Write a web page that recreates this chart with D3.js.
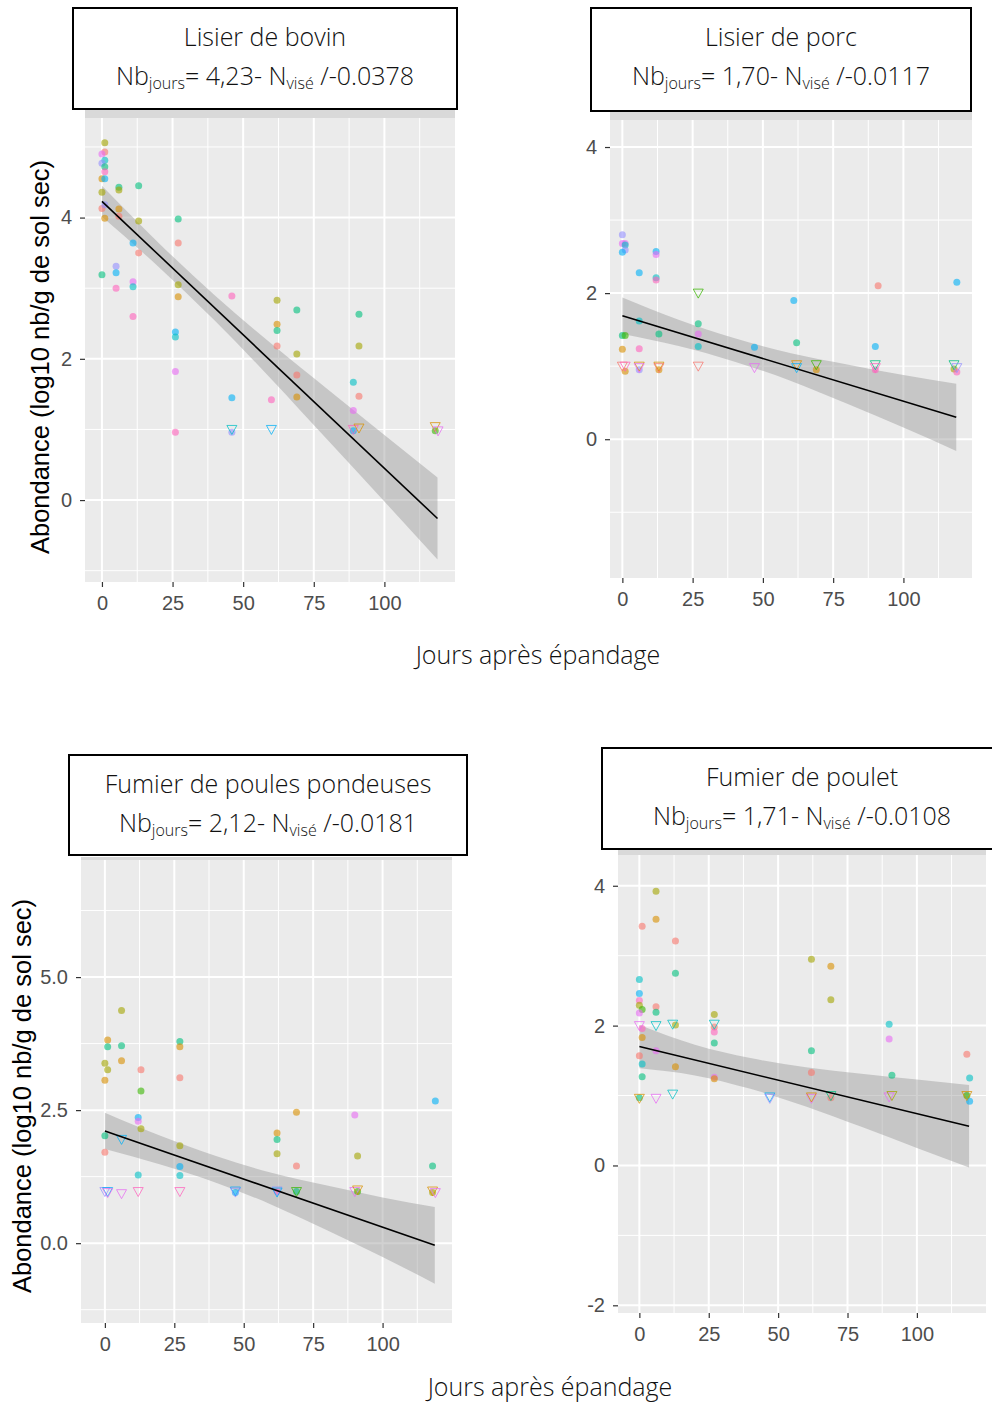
<!DOCTYPE html>
<html>
<head>
<meta charset="utf-8">
<script src="https://cdn.jsdelivr.net/npm/d3@7"></script>
<style>
  body { margin: 0; background: #fff; }
  svg { display: block; }
</style>
</head>
<body>
<svg id="chart" width="992" height="1405"></svg>
<script>
// ggplot hue palette, one colour per sampling plot
const groupColors = ['#F8766D','#D89000','#A3A500','#39B600','#00BF7D','#00BFC4','#00B0F6','#9590FF','#E76BF3','#FF62BC'];

const xTicks = [0, 25, 50, 75, 100];
const xMinor = [12.5, 37.5, 62.5, 87.5, 112.5];

// [day, log10 abundance, group]
const bovinPoints = [
  [1,5.06,2],[1,4.93,0],[0,4.90,8],[1,4.81,5],[0,4.77,7],[1,4.72,4],[1,4.65,9],[0,4.55,1],[1,4.55,6],
  [0,4.36,2],[6,4.43,4],[6,4.39,2],[13,4.45,4],[0,4.13,0],[1,4.18,7],[1,3.99,1],[6,4.12,1],[6,4.02,0],
  [13,3.95,2],[27,3.98,4],[11,3.64,6],[13,3.50,0],[27,3.64,0],[5,3.31,7],[5,3.22,6],[0,3.19,4],[11,3.09,8],
  [11,3.02,5],[5,3.00,9],[27,3.05,2],[27,2.88,1],[11,2.60,9],[46,2.89,9],[26,2.38,6],[26,2.31,5],[62,2.83,2],
  [69,2.69,4],[62,2.49,1],[62,2.40,4],[62,2.18,0],[69,2.07,2],[91,2.63,4],[91,2.18,2],[26,1.82,8],[46,1.45,6],
  [60,1.42,9],[69,1.77,0],[69,1.46,1],[89,1.67,5],[91,1.47,0],[89,1.27,8],[26,0.96,9],[46,0.96,7],[89,0.98,6],
  [118,0.98,3]
];
const bovinLoq = [[46,1.0,5],[60,1.0,6],[89,1.0,9],[91,1.02,1],[118,1.04,1],[119,0.98,8]];

const porcPoints = [
  [0,2.80,7],[0,2.68,8],[1,2.68,8],[1,2.66,5],[1,2.59,7],[0,2.56,6],[12,2.57,6],[12,2.53,8],[6,2.28,6],
  [12,2.21,5],[12,2.18,9],[61,1.90,6],[91,2.10,0],[119,2.15,6],[6,1.62,5],[0,1.42,4],[1,1.42,3],[13,1.44,4],
  [27,1.58,4],[27,1.44,8],[27,1.27,5],[0,1.23,1],[6,1.24,9],[47,1.26,6],[62,1.32,4],[90,1.27,6],
  [1,0.93,1],[6,0.95,7],[13,0.95,1],[69,0.95,1],[90,0.95,9],[118,0.96,2],[119,0.92,9]
];
const porcLoq = [[0,1.0,0],[1,1.0,9],[6,1.0,1],[6,0.98,8],[13,1.0,1],[13,0.98,0],[27,1.0,0],[27,2.0,3],
  [47,0.98,8],[62,1.02,1],[62,0.98,6],[69,1.02,3],[90,1.02,4],[90,0.98,9],[118,1.02,4],[119,0.98,7]];

const poulesPoints = [
  [6,4.37,2],[1,3.82,1],[1,3.69,4],[6,3.71,4],[0,3.38,2],[1,3.26,2],[6,3.43,1],[0,3.06,1],[13,3.26,0],
  [27,3.79,4],[27,3.69,1],[27,3.11,0],[13,2.86,3],[12,2.36,6],[12,2.29,8],[13,2.15,2],[0,2.02,4],[0,1.71,0],
  [12,1.28,5],[27,1.83,2],[27,1.44,6],[27,1.27,5],[119,2.67,6],[69,2.46,1],[90,2.41,8],[62,2.07,1],[62,1.95,4],
  [62,1.68,2],[91,1.64,2],[69,1.45,0],[118,1.45,4],[47,0.95,6],[62,0.97,9],[69,0.97,4],[91,0.97,3],[118,0.95,2]
];
const poulesLoq = [[6,1.95,6],[0,0.97,7],[1,0.97,6],[1,0.95,8],[6,0.93,8],[12,0.97,9],[27,0.97,9],[47,0.98,6],
  [47,0.96,7],[62,0.98,7],[62,0.96,6],[69,0.97,3],[90,0.97,8],[91,1.0,1],[118,0.98,1],[119,0.95,8]];

const pouletPoints = [
  [6,3.92,2],[6,3.52,1],[1,3.42,0],[13,3.21,0],[13,2.75,4],[62,2.95,2],[69,2.85,1],[69,2.37,2],[0,2.66,5],
  [0,2.46,6],[0,2.36,9],[0,2.29,2],[1,2.23,3],[0,2.18,8],[6,2.27,0],[6,2.19,4],[27,2.16,2],[27,1.98,0],
  [27,1.91,9],[27,1.75,4],[13,2.01,2],[1,1.96,9],[1,1.83,1],[90,2.02,5],[90,1.81,8],[6,1.64,8],[62,1.64,4],
  [0,1.57,0],[1,1.45,5],[13,1.41,1],[1,1.27,4],[62,1.33,0],[91,1.29,4],[118,1.59,0],[119,1.25,5],[27,1.26,8],
  [27,1.24,1],[0,0.97,4],[69,0.97,0],[118,1.0,3],[119,0.92,6]
];
const pouletLoq = [[0,2.0,8],[6,2.0,5],[12,2.02,5],[27,2.02,5],[0,0.96,1],[6,0.96,8],[12,1.02,5],[47,0.98,6],
  [47,0.96,7],[62,0.96,8],[62,0.98,1],[69,1.0,4],[90,0.98,8],[91,1.0,2],[118,1.0,1]];

const fitIntercepts = [4.23, 1.69, 2.11, 1.70];
const fitSlopes = [-0.0378, -0.0117, -0.0181, -0.0096];
const bandDays = [0, 20, 40, 60, 80, 100, 118.8];
const bovinBand = [0.22, 0.17, 0.18, 0.25, 0.36, 0.47, 0.58];
const porcBand = [0.25, 0.18, 0.16, 0.19, 0.27, 0.36, 0.46];
const poulesBand = [0.34, 0.27, 0.25, 0.30, 0.42, 0.56, 0.72];
const pouletBand = [0.31, 0.22, 0.22, 0.28, 0.38, 0.49, 0.59];

const titles = ['Lisier de bovin', 'Lisier de porc', 'Fumier de poules pondeuses', 'Fumier de poulet'];
const eqA = ['4,23', '1,70', '2,12', '1,71'];
const eqB = ['-0.0378', '-0.0117', '-0.0181', '-0.0108'];

const svg = d3.select('#chart');
const titleFont = "'Open Sans', 'Noto Sans', sans-serif";
const axisFont = "'Liberation Sans', Arial, sans-serif";

const panels = [
  { pts: bovinPoints, loq: bovinLoq, band: bovinBand, x0: 85, x1: 455, y0: 118, y1: 582, strip: 110,
    xd: [-6, 125], yd: [-1.16, 5.41], yTicks: [0, 2, 4], yMinor: [-1, 1, 3, 5], fmt: d => String(d),
    box: [73, 8, 384, 101] },
  { pts: porcPoints, loq: porcLoq, band: porcBand, x0: 610, x1: 972, y0: 120, y1: 578, strip: 111,
    xd: [-4.4, 124.4], yd: [-1.9, 4.37], yTicks: [0, 2, 4], yMinor: [-1, 1, 3], fmt: d => String(d),
    box: [591, 8, 380, 103] },
  { pts: poulesPoints, loq: poulesLoq, band: poulesBand, x0: 81, x1: 452, y0: 860, y1: 1323, strip: 857,
    xd: [-8.6, 125], yd: [-1.5, 7.2], yTicks: [0, 2.5, 5], yMinor: [-1.25, 1.25, 3.75, 6.25], fmt: d => d.toFixed(1),
    box: [69, 755, 398, 100] },
  { pts: pouletPoints, loq: pouletLoq, band: pouletBand, x0: 618, x1: 986, y0: 855, y1: 1313, strip: 850,
    xd: [-7.7, 124.9], yd: [-2.11, 4.44], yTicks: [-2, 0, 2, 4], yMinor: [-1, 1, 3], fmt: d => String(d),
    box: [602, 748, 400, 101] }
];

const tri = 'M-5,-4L5,-4L0,5Z';

panels.forEach((p, i) => {
  const x = d3.scaleLinear().domain(p.xd).range([p.x0, p.x1]);
  const y = d3.scaleLinear().domain(p.yd).range([p.y1, p.y0]);
  const g = svg.append('g');

  // strip remnant + panel background
  g.append('rect').attr('x', p.x0).attr('y', p.strip).attr('width', p.x1 - p.x0).attr('height', p.y0 - p.strip).attr('fill', '#D9D9D9');
  g.append('rect').attr('x', p.x0).attr('y', p.y0).attr('width', p.x1 - p.x0).attr('height', p.y1 - p.y0).attr('fill', '#EBEBEB');

  // grid
  g.append('g').selectAll('line').data(xMinor).join('line').attr('x1', d => x(d)).attr('x2', d => x(d))
    .attr('y1', p.y0).attr('y2', p.y1).attr('stroke', '#fff').attr('stroke-width', 1);
  g.append('g').selectAll('line').data(p.yMinor).join('line').attr('y1', d => y(d)).attr('y2', d => y(d))
    .attr('x1', p.x0).attr('x2', p.x1).attr('stroke', '#fff').attr('stroke-width', 1);
  g.append('g').selectAll('line').data(xTicks).join('line').attr('x1', d => x(d)).attr('x2', d => x(d))
    .attr('y1', p.y0).attr('y2', p.y1).attr('stroke', '#fff').attr('stroke-width', 2);
  g.append('g').selectAll('line').data(p.yTicks).join('line').attr('y1', d => y(d)).attr('y2', d => y(d))
    .attr('x1', p.x0).attr('x2', p.x1).attr('stroke', '#fff').attr('stroke-width', 2);

  // axes
  const xAxis = g.append('g').attr('transform', `translate(0,${p.y1})`)
    .call(d3.axisBottom(x).tickValues(xTicks).tickSize(5).tickPadding(9));
  const yAxis = g.append('g').attr('transform', `translate(${p.x0},0)`)
    .call(d3.axisLeft(y).tickValues(p.yTicks).tickFormat(p.fmt).tickSize(5).tickPadding(8));
  [xAxis, yAxis].forEach(a => {
    a.select('.domain').remove();
    a.selectAll('line').attr('stroke', '#333').attr('stroke-width', 1.2);
    a.selectAll('text').attr('fill', '#4D4D4D').style('font-family', axisFont).style('font-size', '20px');
  });

  // confidence band and fit
  const a = fitIntercepts[i], b = fitSlopes[i];
  const area = d3.area().curve(d3.curveMonotoneX)
    .x((d, k) => x(bandDays[k]))
    .y0((d, k) => y(a + b * bandDays[k] - d))
    .y1((d, k) => y(a + b * bandDays[k] + d));
  g.append('path').attr('d', area(p.band)).attr('fill', '#999').attr('fill-opacity', 0.45);

  // points
  g.append('g').selectAll('circle').data(p.pts).join('circle')
    .attr('cx', d => x(d[0])).attr('cy', d => y(d[1])).attr('r', 3.5)
    .attr('fill', d => groupColors[d[2]]).attr('fill-opacity', 0.6);
  g.append('g').selectAll('path').data(p.loq).join('path')
    .attr('d', tri).attr('transform', d => `translate(${x(d[0])},${y(d[1])})`)
    .attr('fill', 'none').attr('stroke', d => groupColors[d[2]]).attr('stroke-opacity', 0.75).attr('stroke-width', 1);

  const line = d3.line().x(d => x(d)).y(d => y(a + b * d));
  g.append('path').attr('d', line([0, bandDays[bandDays.length - 1]])).attr('stroke', '#000').attr('stroke-width', 1.6).attr('fill', 'none');

  // title box
  const [bx, by, bw, bh] = p.box;
  g.append('rect').attr('x', bx).attr('y', by).attr('width', bw).attr('height', bh)
    .attr('fill', '#fff').attr('stroke', '#000').attr('stroke-width', 2);
  const cx = bx + bw / 2;
  g.append('text').attr('x', cx).attr('y', by + 38).attr('text-anchor', 'middle')
    .style('font-family', titleFont).style('font-weight', 300).style('font-size', '25px').attr('fill', '#111').text(titles[i]);
  const t = g.append('text').attr('x', cx).attr('y', by + 77).attr('text-anchor', 'middle')
    .style('font-family', titleFont).style('font-weight', 300).style('font-size', '25px').attr('fill', '#111');
  t.append('tspan').text('Nb');
  t.append('tspan').attr('dy', 4).style('font-size', '16px').text('jours');
  t.append('tspan').attr('dy', -4).text('= ' + eqA[i] + '- N');
  t.append('tspan').attr('dy', 4).style('font-size', '16px').text('visé');
  t.append('tspan').attr('dy', -4).text(' /' + eqB[i]);
});

// axis titles
const yTitle = 'Abondance (log10 nb/g de sol sec)';
svg.append('text').attr('transform', 'translate(49,357) rotate(-90)').attr('text-anchor', 'middle')
  .style('font-family', axisFont).style('font-size', '25.5px').attr('fill', '#000').text(yTitle);
svg.append('text').attr('transform', 'translate(31,1096) rotate(-90)').attr('text-anchor', 'middle')
  .style('font-family', axisFont).style('font-size', '25.5px').attr('fill', '#000').text(yTitle);
svg.append('text').attr('x', 538).attr('y', 664).attr('text-anchor', 'middle')
  .style('font-family', titleFont).style('font-weight', 300).style('font-size', '25px').attr('fill', '#111').text('Jours après épandage');
svg.append('text').attr('x', 550).attr('y', 1396).attr('text-anchor', 'middle')
  .style('font-family', titleFont).style('font-weight', 300).style('font-size', '25px').attr('fill', '#111').text('Jours après épandage');
</script>
</body>
</html>
